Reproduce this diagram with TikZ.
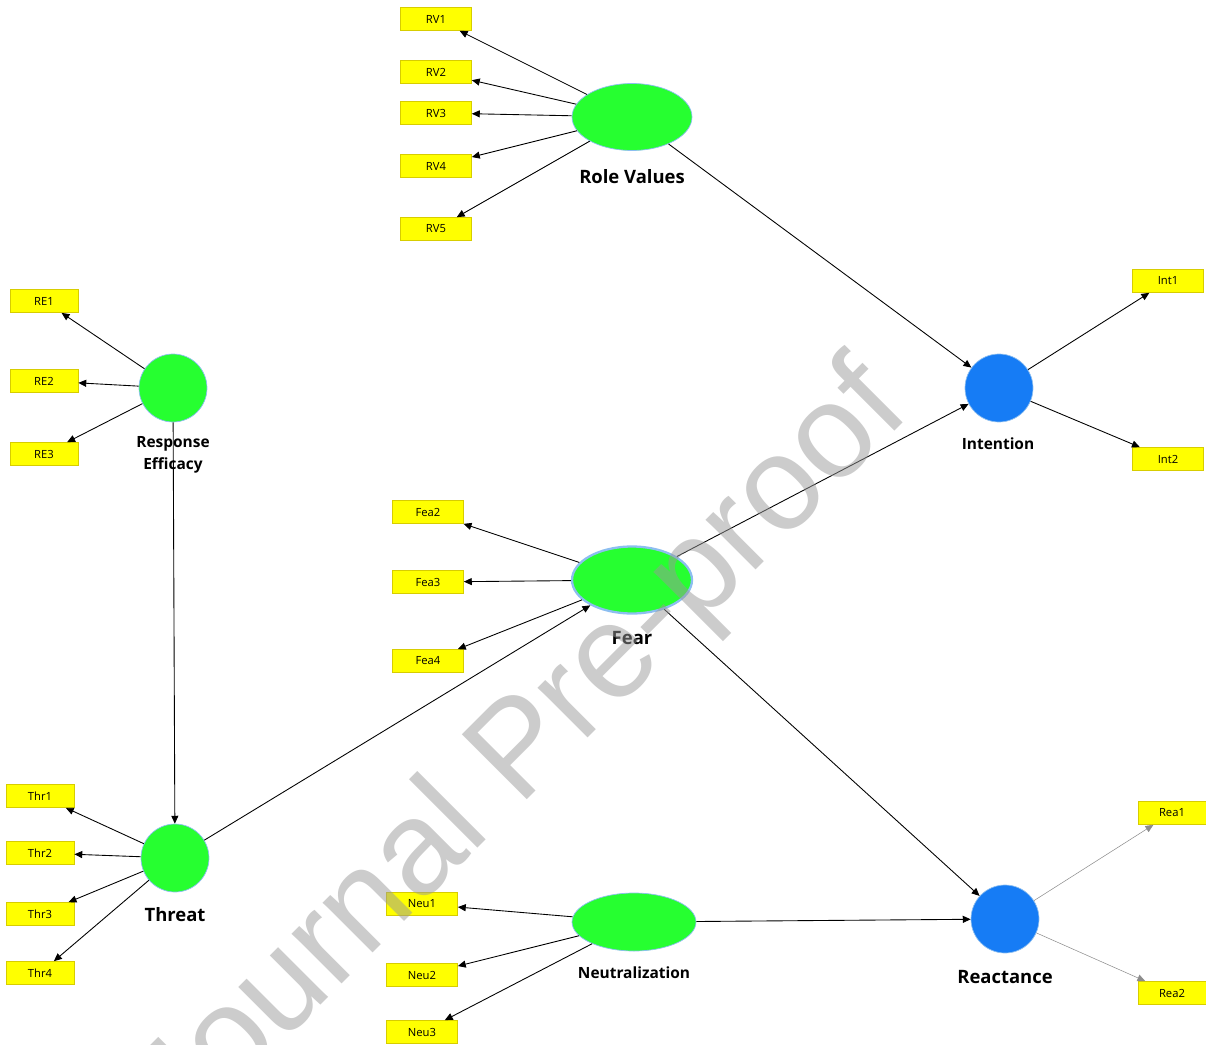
\documentclass[tikz,border=0pt]{standalone}
\usepackage{fontspec}
\setmainfont{Open Sans}
\newfontfamily\wmfont{Liberation Sans}
\usetikzlibrary{%
  arrows.meta,%
  shapes.geometric,% wg. ellipse
  positioning%
}
\definecolor{lvgreen}{RGB}{38,255,48}
\definecolor{lvblue}{RGB}{22,124,245}
\definecolor{lvedge}{RGB}{140,190,240}
\definecolor{indyellow}{RGB}{255,255,0}
\definecolor{indedge}{RGB}{215,205,0}

\begin{document}
\begin{tikzpicture}[
  x=0.02cm, y=-0.02cm,
  >={Triangle[length=4.5pt,width=4pt]},
  line width=0.5pt,
  ind/.style={draw=indedge, fill=indyellow, line width=0.4pt,
    minimum width=1.42cm, minimum height=0.46cm, inner sep=0pt,
    font=\fontsize{6.4}{7}\selectfont},
  lat/.style={ellipse, draw=lvedge, fill=lvgreen, line width=0.4pt,
    minimum width=2.4cm, minimum height=1.34cm, inner sep=0pt},
  latc/.style={circle, draw=lvedge, fill=lvgreen, line width=0.4pt,
    minimum size=1.36cm, inner sep=0pt},
  big/.style={font=\bfseries\fontsize{10.5}{12}\selectfont},
  small/.style={font=\bfseries\fontsize{8.8}{12.5}\selectfont, align=center},
]
\useasboundingbox (0,0) rectangle (1206,1044);

% latent variables
\node[lat] (rv) at (632,117) {};
\node[big] (rvlbl) at (632,177) {Role Values};
\node[latc] (re) at (173,388) {};
\node[small] (relbl) at (173,455) {Response\\Efficacy};
\node[latc] (thr) at (175,858) {};
\node[big] (thrlbl) at (175,915) {Threat};
\node[lat, line width=1.3pt] (fea) at (632,580) {};
\node[big] (fealbl) at (632,638) {Fear};
\node[lat, minimum width=2.48cm, minimum height=1.16cm] (neu) at (634,922) {};
\node[small] (neulbl) at (634,973) {Neutralization};
\node[latc, fill=lvblue] (int) at (999,388) {};
\node[small] (intlbl) at (998,444) {Intention};
\node[latc, fill=lvblue] (rea) at (1005,919) {};
\node[big] (realbl) at (1005,977) {Reactance};

% indicators
\foreach \n/\y in {1/19,2/72,3/113,4/166,5/229} {
  \node[ind] (rv\n) at (436,\y) {RV\n};
  \draw[->] (rv) -- (rv\n);
}
\foreach \n/\y in {1/301,2/381,3/454} {
  \node[ind, minimum width=1.36cm] (re\n) at (44,\y) {RE\n};
  \draw[->] (re) -- (re\n);
}
\foreach \n/\y in {1/796,2/853,3/914,4/973} {
  \node[ind, minimum width=1.36cm] (thr\n) at (40,\y) {Thr\n};
  \draw[->] (thr) -- (thr\n);
}
\foreach \n/\y in {2/512,3/582,4/661} {
  \node[ind] (fea\n) at (428,\y) {Fea\n};
  \draw[->] (fea) -- (fea\n);
}
\foreach \n/\y in {1/904,2/975,3/1032} {
  \node[ind] (neu\n) at (422,\y) {Neu\n};
  \draw[->] (neu) -- (neu\n);
}
\foreach \n/\y in {1/281,2/459} {
  \node[ind] (int\n) at (1168,\y) {Int\n};
  \draw[->] (int) -- (int\n);
}
\foreach \n/\y in {1/813,2/993} {
  \node[ind, minimum width=1.36cm] (rea\n) at (1172,\y) {Rea\n};
  \draw[->, draw=black!45, line width=0.3pt] (rea) -- (rea\n);
}

% paths
\draw[->] (re) -- (thr);
\draw[->] (thr) -- (fea);
\draw[->] (rv) -- (int);
\draw[->] (fea) -- (int);
\draw[->] (fea) -- (rea);
\draw[->] (neu) -- (rea);

% watermark
\node[rotate=45, anchor=base, inner sep=0pt, text=black!40, text opacity=0.5,
  font=\wmfont\fontsize{76}{80}\selectfont] (wm) at (548,778) {Journal Pre-proof};

\end{tikzpicture}
\end{document}
